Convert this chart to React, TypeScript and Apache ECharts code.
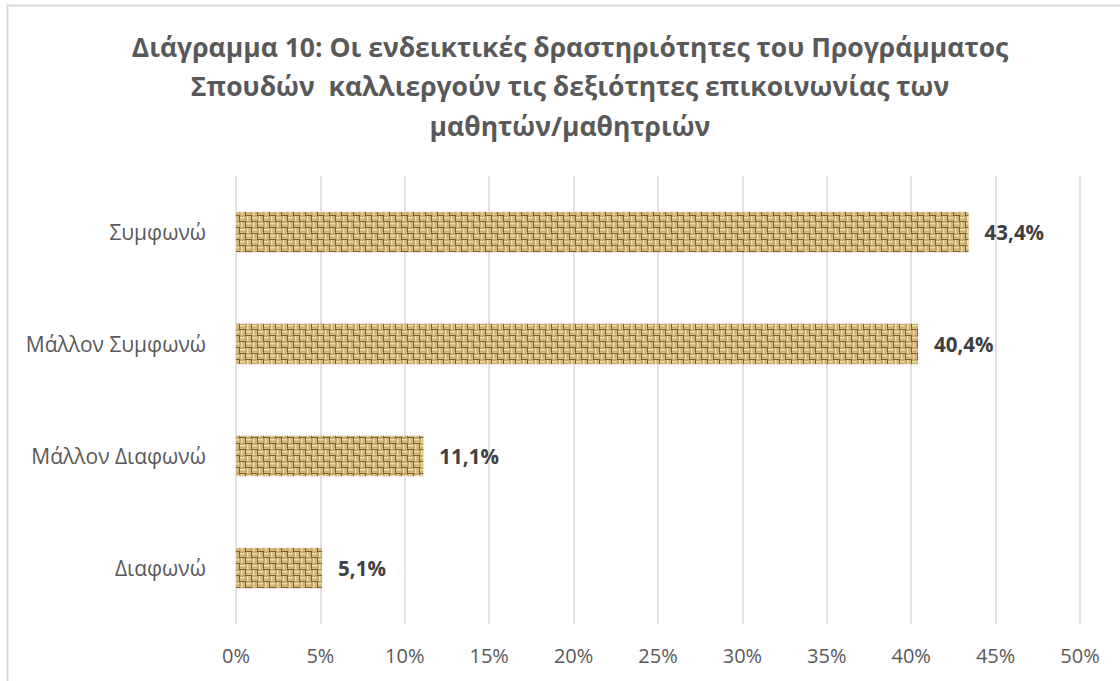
import React, { useEffect, useRef } from "react";
import * as echarts from "echarts";

const categories = ["Συμφωνώ", "Μάλλον Συμφωνώ", "Μάλλον Διαφωνώ", "Διαφωνώ"];
const values = [43.4, 40.4, 11.1, 5.1];
const titleLines = [
  "Διάγραμμα 10: Οι ενδεικτικές δραστηριότητες του Προγράμματος",
  "Σπουδών  καλλιεργούν τις δεξιότητες επικοινωνίας των",
  "μαθητών/μαθητριών",
];

function makeTexture(): HTMLCanvasElement {
  const c = document.createElement("canvas");
  const size = 24;
  c.width = size;
  c.height = size;
  const ctx = c.getContext("2d")!;
  ctx.fillStyle = "#c4a66b";
  ctx.fillRect(0, 0, size, size);
  const cell = 6;
  for (let i = 0; i < size / cell; i++) {
    for (let j = 0; j < size / cell; j++) {
      const x = i * cell;
      const y = j * cell;
      if ((i + j) % 2 === 0) {
        ctx.fillStyle = "#f2e0ae";
        ctx.fillRect(x, y + 1, cell - 1, 1.5);
        ctx.fillStyle = "#d8bc82";
        ctx.fillRect(x, y + 3.5, cell - 1, 1.5);
        ctx.fillStyle = "#7a5e30";
        ctx.fillRect(x, y + 5, cell, 1);
      } else {
        ctx.fillStyle = "#f2e0ae";
        ctx.fillRect(x + 1, y, 1.5, cell - 1);
        ctx.fillStyle = "#d8bc82";
        ctx.fillRect(x + 3.5, y, 1.5, cell - 1);
        ctx.fillStyle = "#7a5e30";
        ctx.fillRect(x + 5, y, 1, cell);
      }
    }
  }
  return c;
}

const FONT = "'Open Sans', 'Noto Sans', sans-serif";

export default function App() {
  const ref = useRef<HTMLDivElement>(null);
  useEffect(() => {
    if (!ref.current) return;
    const chart = echarts.init(ref.current, undefined, { renderer: "svg" });
    const tex = makeTexture();
    chart.setOption({
      animation: false,
      backgroundColor: "#ffffff",
      title: {
        text: titleLines.join("\n"),
        left: 565,
        top: 22,
        textAlign: "center",
        textStyle: {
          fontFamily: FONT,
          fontSize: 26.5,
          fontWeight: "bold",
          color: "#595959",
          lineHeight: 39.5,
        },
      },
      graphic: [
        {
          type: "rect",
          shape: { x: 7.5, y: 5.5, width: 1200, height: 800 },
          style: { fill: "none", stroke: "#d9d9d9", lineWidth: 2 },
          silent: true,
        },
      ],
      grid: { left: 236, right: 40, top: 176, bottom: 57, containLabel: false },
      xAxis: {
        type: "value",
        min: 0,
        max: 50,
        interval: 5,
        axisLine: { show: false },
        axisTick: { show: false },
        axisLabel: {
          formatter: (v: number) => `${v}%`,
          color: "#595959",
          fontSize: 20,
          fontFamily: FONT,
          margin: 21,
        },
        splitLine: { show: true, lineStyle: { color: "#d9d9d9", width: 1.5 } },
      },
      yAxis: {
        type: "category",
        data: categories,
        inverse: true,
        axisLine: { show: false },
        axisTick: { show: false },
        axisLabel: {
          color: "#595959",
          fontSize: 21,
          fontFamily: FONT,
          margin: 30,
        },
      },
      series: [
        {
          type: "bar",
          data: values,
          barWidth: "36%",
          itemStyle: { color: { image: tex, repeat: "repeat" } as any },
          label: {
            show: true,
            position: "right",
            distance: 16,
            formatter: (p: any) => `${p.value.toFixed(1).replace(".", ",")}%`,
            color: "#404040",
            fontSize: 20.5,
            fontWeight: "bold",
            fontFamily: FONT,
          },
        },
      ],
    });
    return () => chart.dispose();
  }, []);
  return (
    <div
      ref={ref}
      style={{ position: "absolute", left: 0, top: 0, width: 1120, height: 681 }}
    />
  );
}
